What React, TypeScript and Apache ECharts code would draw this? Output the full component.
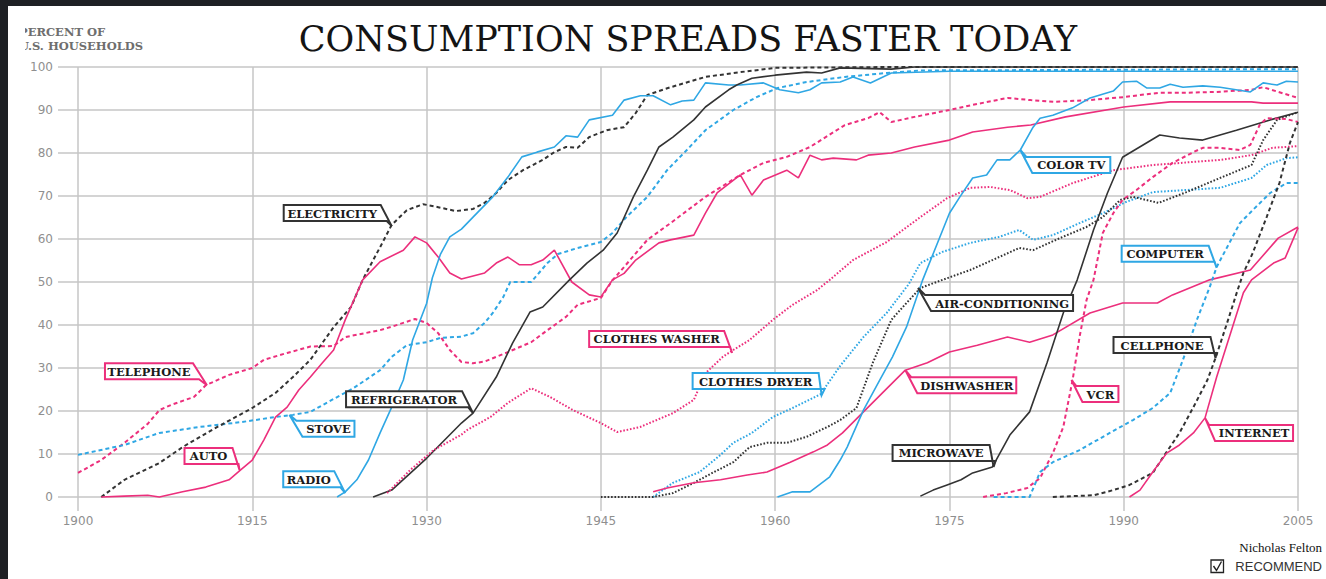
import React, { useEffect, useRef } from "react";
import * as echarts from "echarts";

// ---------- DATA ----------
const BASE_YEAR = 1900;
const X_TICK_YEARS = [1900, 1915, 1930, 1945, 1960, 1975, 1990, 2005];
const Y_TICK_VALUES = [0, 10, 20, 30, 40, 50, 60, 70, 80, 90, 100];

type Pt = [number, number];

const telephone: Pt[] = [[1900,5.6],[1902,8.6],[1904,12.6],[1906,17],[1907,20.2],[1908,21.4],[1910,23.3],[1911,26],[1913,28.4],[1915,30],[1916,31.9],[1918,33.5],[1920,35],[1922,35.1],[1923,37.2],[1926,38.8],[1927,39.6],[1929,41.4],[1930,40.5],[1931,38.1],[1932,34.2],[1933,31.4],[1934,31.1],[1935,31.5],[1937,33.7],[1939,36],[1940,38],[1942,41.9],[1943,44.7],[1945,46.3],[1946,50.4],[1947,53.5],[1949,59.8],[1951,63.7],[1954,69.8],[1957,74.9],[1959,77.7],[1961,79.1],[1963,81.4],[1966,86.5],[1968,88.1],[1969,89.5],[1970,87.2],[1972,88.4],[1975,90],[1977,91.2],[1980,92.8],[1982,92.3],[1984,91.9],[1987,92.3],[1990,93],[1993,94],[1995,94],[1998,94.2],[2001,94.7],[2002,95.3],[2005,92.8]];

const auto: Pt[] = [[1902,0],[1904,0.2],[1906,0.4],[1907,0],[1909,1.2],[1911,2.3],[1913,4],[1914,6.3],[1915,8.6],[1916,13.3],[1917,18.6],[1918,20.9],[1919,24.9],[1920,27.9],[1921,31.1],[1922,34.2],[1923,41.2],[1924.5,50.5],[1926,54.7],[1928,57.4],[1929,60.5],[1930,59.1],[1931,55.8],[1932,52.1],[1933,50.7],[1935,52.1],[1936,54.4],[1937,55.8],[1938,54],[1939,54],[1940,55.1],[1941,57.4],[1942.5,50],[1944,47],[1945,46.5],[1946,50.5],[1947,52],[1948,55.1],[1950,59.1],[1951,59.8],[1953,60.9],[1954,66],[1955,70.7],[1957,74.9],[1958,70.2],[1959,73.7],[1961,76],[1962,74.2],[1963,79.5],[1964,78.4],[1965,78.8],[1967,78.4],[1968,79.5],[1970,80],[1972,81.4],[1975,83],[1977,84.9],[1980,86],[1982,86.5],[1985,88.4],[1990,90.7],[1994,91.9],[2001,91.9],[2002,91.6],[2005,91.6]];

const electricity: Pt[] = [[1902,0],[1904,4],[1907,7.9],[1909,11.6],[1912,16.3],[1915,20.7],[1917,24.2],[1918.5,27.9],[1920,31.9],[1922,39.5],[1923.5,44.2],[1924.5,50.5],[1926,58.1],[1927,63.3],[1928.3,66.7],[1929.7,68.1],[1931,67.4],[1932.5,66.5],[1934,67],[1935,68.4],[1936,70.7],[1937,73.7],[1938.3,76],[1940,78.4],[1941,80.2],[1942,81.4],[1943,81.2],[1944,83.7],[1945.5,85.3],[1947,86],[1948,89.3],[1949,93.5],[1951,95.3],[1954,97.7],[1957,98.8],[1960,99.8],[1970,100],[2005,100]];

const radio: Pt[] = [[1922.3,0],[1923,1.2],[1924,4],[1925,8.6],[1926,14.9],[1927,20.9],[1928,27.2],[1928.8,36.5],[1930,45],[1930.5,51],[1931.2,56.5],[1932,60.5],[1933,62.3],[1934,65.1],[1935.7,69.8],[1937,74.4],[1938.2,79.1],[1939.5,80.2],[1941,81.4],[1942,84],[1943,83.7],[1944,87.7],[1946,88.8],[1947,92.3],[1948.4,93.3],[1949.5,93.3],[1951,91.2],[1952,92.1],[1953,92.3],[1954,96.3],[1956,95.8],[1957,95.8],[1959,96.3],[1960.4,94.7],[1962,94],[1963,94.7],[1964,96.3],[1965.6,96.5],[1966.7,97.7],[1968.2,96.3],[1970,98.6],[1975,99],[2005,99]];

const stove: Pt[] = [[1900,9.8],[1904,12.1],[1907,14.9],[1910.5,16.3],[1914,17.4],[1917,18.6],[1918.5,19.1],[1920,19.8],[1921.4,21.9],[1923.7,25.3],[1926,29.5],[1927,32.6],[1928.3,35.3],[1930,36],[1931.2,37],[1933,37.3],[1934,38.1],[1935,40.5],[1935.7,42.8],[1936.6,46.5],[1937.2,50],[1939,50],[1940.4,54.4],[1941.3,56.5],[1943,57.9],[1945,59.3],[1946,61.4],[1947.2,65.1],[1949,69.8],[1950.7,76],[1952.4,80.7],[1954,85.3],[1956.4,90],[1958.4,93],[1960.2,95.1],[1962.7,96.5],[1966,97.7],[1969.6,98.6],[1972.5,99.2],[2005,99.5]];

const refrigerator: Pt[] = [[1925.4,0],[1927,1.6],[1930,9],[1933,17.2],[1934,19.5],[1936,27.9],[1937.4,35.8],[1938.9,43],[1940,44.2],[1942.3,50.5],[1943.8,54.4],[1945.2,57.4],[1946.4,61.4],[1947.8,69.8],[1949,76],[1950,81.4],[1951.2,83.7],[1953,87.7],[1954,90.7],[1956,94.7],[1956.7,95.8],[1958,97.4],[1960,98.1],[1962.7,98.8],[1964,98.6],[1965.6,99.8],[1970,99.5],[1972,100],[2005,100]];

const clothesWasher: Pt[] = [[1926.6,0.9],[1928.6,6.3],[1930.6,10.9],[1933,14.5],[1933.5,15.6],[1935.5,18.6],[1937,21.9],[1939,25.3],[1940.6,23.3],[1942.6,20.2],[1945,17.2],[1946.4,15.1],[1948.4,16.3],[1951.2,19.5],[1953,22.6],[1954,28.8],[1955.5,32.6],[1956.4,34.2],[1957.8,36.5],[1959.8,41.2],[1961.5,44.7],[1963.6,48.1],[1964.7,50.5],[1966.7,55.1],[1969.6,59.3],[1972.5,65.1],[1974.8,69.5],[1976.8,71.9],[1978.5,72.1],[1980.2,71.4],[1981.7,69.5],[1982.8,69.8],[1985.6,73],[1989.1,76],[1992.5,77.2],[1998.3,78.4],[2001,79.5],[2002.8,81.2],[2005,81.6]];

const clothesDryer: Pt[] = [[1949.5,0],[1951.2,3.3],[1953.5,5.8],[1955.3,9.8],[1956.4,12.6],[1958,14.9],[1959.8,18.6],[1961.5,20.7],[1963.9,23.9],[1965.6,30.5],[1967.6,37.2],[1969.6,42.8],[1971.5,49.5],[1972.5,54.4],[1974.4,57],[1976.8,59.1],[1979.3,60.5],[1981,62.1],[1982.2,59.8],[1983.9,60.9],[1986.2,63.7],[1988.2,66],[1990.2,68.6],[1992.5,70.9],[1995.4,71.4],[1998.3,71.9],[2001,74.2],[2002.3,77.2],[2004,78.8],[2005,79]];

const airConditioning: Pt[] = [[1945,0],[1949.5,0],[1951.2,0.9],[1953,3.3],[1954.6,5.6],[1956.4,8.1],[1957.8,11.6],[1959.3,12.6],[1961,12.6],[1962.7,14],[1964.5,16.3],[1965.6,17.9],[1967,20.7],[1968.4,31.2],[1970,41.2],[1971.3,45.1],[1972.5,48.6],[1974.4,50.5],[1976.8,52.8],[1978.7,55.1],[1981,57.9],[1982.2,57.4],[1984.5,60.2],[1986.8,62.8],[1988.2,65.1],[1989.7,69.1],[1990.8,69.8],[1993,68.4],[1995.4,70.9],[1998.3,74.2],[2001,77.2],[2002,83],[2003.2,87.7],[2005,89.5]];

const dishwasher: Pt[] = [[1949.5,1.2],[1950.7,2.1],[1953,3.3],[1955.3,4],[1957.6,5.1],[1959.3,5.8],[1961.3,8.1],[1963.3,10.5],[1964.5,12.1],[1965.8,14.9],[1967.6,19.8],[1969.3,24.4],[1971.2,29.5],[1973.1,31.2],[1975,33.7],[1977.4,35.3],[1980,37.2],[1981.9,36],[1983.9,37.7],[1987.1,42.8],[1989.9,45.1],[1992.9,45.1],[1994.2,47],[1997.4,50.5],[2000.9,52.8],[2003.3,60.2],[2005,62.8]];

const colorTv: Pt[] = [[1960.2,0],[1961.5,1.2],[1963,1.2],[1964.7,4.7],[1965.6,8.6],[1966.2,11.6],[1967.6,20.2],[1969,27.2],[1970.1,32.6],[1971.3,39.5],[1972.7,50.5],[1975,66],[1975.9,69.8],[1977,74.2],[1978.2,74.9],[1979.1,78.4],[1980.2,78.4],[1981.1,80.7],[1982.2,86],[1982.8,88.1],[1983.9,88.8],[1985.6,90.5],[1987.1,92.8],[1989.1,94.4],[1989.9,96.5],[1991.1,96.7],[1992,95.1],[1993.1,95.1],[1994,96],[1995.1,95.3],[1996.8,95.6],[1998.3,95.3],[2000.9,94.2],[2002,96.3],[2003.2,95.8],[2004,96.7],[2005,96.5]];

const microwave: Pt[] = [[1972.5,0.2],[1973.6,1.6],[1974.8,2.8],[1976,4],[1977,5.6],[1978.7,7],[1980.2,14.4],[1981.9,19.8],[1983.4,31.2],[1984.8,42.8],[1986,50.5],[1987.4,62.1],[1988.6,70.7],[1989.9,79],[1993.1,84.2],[1994.8,83.5],[1996.8,83],[1999.7,85.3],[2002.6,87.7],[2005,89.5]];

const vcr: Pt[] = [[1977.9,0],[1979.9,0.9],[1981.7,2.1],[1982.8,4.4],[1983.9,10.2],[1984.8,16.3],[1985.6,27.2],[1986.2,37.2],[1986.8,45.8],[1987.4,50.5],[1988.2,61.4],[1989.1,66],[1989.9,69.1],[1991.1,71.4],[1992.5,74.4],[1994.2,77.7],[1996,80.2],[1996.8,81.2],[1998.3,81.2],[2000,80.7],[2000.9,81.9],[2001.7,86.5],[2002.3,88.1],[2004,87.9],[2005,87.2]];

const computer: Pt[] = [[1978.8,0],[1981.9,0],[1982.8,5.8],[1983.9,8.1],[1986.2,10.9],[1988.8,14.9],[1990.8,17.9],[1992.5,20.7],[1994,24.2],[1995.1,31.9],[1996.3,41.2],[1997.4,48.8],[1998,53.5],[1998.9,58.1],[2000,63.7],[2001.1,66.7],[2002.6,70.7],[2004,73],[2005,73]];

const cellphone: Pt[] = [[1983.9,0],[1987.4,0.4],[1989.1,1.6],[1990.5,2.8],[1992.5,5.6],[1993.4,9.3],[1994.8,14.9],[1996,20.9],[1997.2,27.2],[1997.9,32.3],[1998.9,40.5],[1999.8,48.1],[2000.3,52.1],[2001.1,56.7],[2002.3,65.1],[2003.4,73],[2004.3,82.3],[2005,87.2]];

const internet: Pt[] = [[1990.5,0],[1991.4,1.6],[1992.5,5.8],[1993.7,10.2],[1994.8,12.1],[1996,14.9],[1997,18.4],[1998,27.9],[2000.3,47.5],[2001,50.5],[2002.9,54.4],[2003.9,55.6],[2005,62.6]];

// Callout tips (data coordinates where each label points)
const CALLOUTS = [
  { label: "TELEPHONE", series: "Telephone", year: 1911.1, value: 26.0 },
  { label: "AUTO", series: "Auto", year: 1913.9, value: 6.3 },
  { label: "RADIO", series: "Radio", year: 1923.0, value: 0.9 },
  { label: "STOVE", series: "Stove", year: 1918.2, value: 19.1 },
  { label: "REFRIGERATOR", series: "Refrigerator", year: 1934.0, value: 19.5 },
  { label: "ELECTRICITY", series: "Electricity", year: 1927.0, value: 63.0 },
  { label: "CLOTHES WASHER", series: "Clothes washer", year: 1956.3, value: 33.5 },
  { label: "CLOTHES DRYER", series: "Clothes dryer", year: 1964.0, value: 23.7 },
  { label: "COLOR TV", series: "Color TV", year: 1981.1, value: 80.7 },
  { label: "AIR-CONDITIONING", series: "Air-conditioning", year: 1972.3, value: 48.6 },
  { label: "DISHWASHER", series: "Dishwasher", year: 1971.2, value: 29.5 },
  { label: "MICROWAVE", series: "Microwave", year: 1978.8, value: 7.0 },
  { label: "VCR", series: "VCR", year: 1985.5, value: 27.2 },
  { label: "COMPUTER", series: "Computer", year: 1998.0, value: 53.3 },
  { label: "CELLPHONE", series: "Cellphone", year: 1997.9, value: 32.3 },
  { label: "INTERNET", series: "Internet", year: 1997.0, value: 18.4 },
];

// ---------- STYLE ----------
const PINK = "#ec2f7c";
const BLUE = "#2fa7e4";
const BLACK = "#333333";
const GRID = "#c6c6c6";

const SERIES_DEFS = [
  { name: "Telephone", data: telephone, color: PINK, kind: "dashed" },
  { name: "Stove", data: stove, color: BLUE, kind: "dashed" },
  { name: "Electricity", data: electricity, color: BLACK, kind: "dashed" },
  { name: "Auto", data: auto, color: PINK, kind: "solid" },
  { name: "Radio", data: radio, color: BLUE, kind: "solid" },
  { name: "Refrigerator", data: refrigerator, color: BLACK, kind: "solid" },
  { name: "Clothes washer", data: clothesWasher, color: PINK, kind: "dotted" },
  { name: "Clothes dryer", data: clothesDryer, color: BLUE, kind: "dotted" },
  { name: "Air-conditioning", data: airConditioning, color: BLACK, kind: "dotted" },
  { name: "Dishwasher", data: dishwasher, color: PINK, kind: "solid" },
  { name: "Color TV", data: colorTv, color: BLUE, kind: "solid" },
  { name: "Microwave", data: microwave, color: BLACK, kind: "solid" },
  { name: "VCR", data: vcr, color: PINK, kind: "dashed" },
  { name: "Computer", data: computer, color: BLUE, kind: "dashed" },
  { name: "Cellphone", data: cellphone, color: BLACK, kind: "dashed" },
  { name: "Internet", data: internet, color: PINK, kind: "solid" },
];

// Callout box layout: offsets (px) from the tip, width, tail side
const CALLOUT_LAYOUT: Record<string, { dx: number; dy: number; w: number; side: "br" | "tl" }> = {
  TELEPHONE: { dx: -102, dy: -22, w: 88, side: "br" },
  AUTO: { dx: -55, dy: -22, w: 48, side: "br" },
  RADIO: { dx: -62, dy: -22, w: 51, side: "br" },
  STOVE: { dx: 13, dy: 6, w: 52, side: "tl" },
  REFRIGERATOR: { dx: -127, dy: -22, w: 116, side: "br" },
  ELECTRICITY: { dx: -108, dy: -21, w: 97, side: "br" },
  "CLOTHES WASHER": { dx: -143, dy: -22, w: 135, side: "br" },
  "CLOTHES DRYER": { dx: -129, dy: -22, w: 126, side: "br" },
  "COLOR TV": { dx: 12, dy: 7, w: 78, side: "tl" },
  "AIR-CONDITIONING": { dx: 13, dy: 7, w: 142, side: "tl" },
  DISHWASHER: { dx: 12, dy: 7, w: 99, side: "tl" },
  MICROWAVE: { dx: -101, dy: -22, w: 97, side: "br" },
  VCR: { dx: 11, dy: 6, w: 36, side: "tl" },
  COMPUTER: { dx: -95, dy: -22, w: 87, side: "br" },
  CELLPHONE: { dx: -102, dy: -21, w: 97, side: "br" },
  INTERNET: { dx: 10, dy: 7, w: 78, side: "tl" },
};
const BOX_H = 16;

const SANS = '"DejaVu Sans", sans-serif';
const SERIF_BOLD = 'bold 11.5px "DejaVu Serif"';

function lineStyleFor(kind: string, color: string) {
  if (kind === "dashed") return { color, width: 2, type: [4, 3] as number[] };
  if (kind === "dotted") return { color, width: 2, type: [1.6, 1.8] as number[] };
  return { color, width: 1.6, type: "solid" as const };
}

function textEl(x: number, y: number, text: string, font: string, fill: string, align: string, valign = "middle", z = 110) {
  return {
    type: "text",
    x,
    y,
    z,
    silent: true,
    style: {
      text,
      font,
      fill,
      textAlign: align,
      textVerticalAlign: valign,
      align,
      verticalAlign: valign,
    },
  };
}

export default function App() {
  const ref = useRef<HTMLDivElement>(null);

  useEffect(() => {
    if (!ref.current) return;
    const chart = echarts.init(ref.current, null, { renderer: "svg" });

    const series = SERIES_DEFS.map((s) => ({
      type: "line",
      name: s.name,
      data: s.data.map(([yr, v]) => [yr - BASE_YEAR, v]),
      showSymbol: false,
      symbol: "none",
      clip: false,
      silent: true,
      lineStyle: lineStyleFor(s.kind, s.color),
      emphasis: { disabled: true },
    }));

    chart.setOption({
      animation: false,
      backgroundColor: "#ffffff",
      grid: { left: 78, right: 28, top: 67, bottom: 82, containLabel: false },
      xAxis: {
        type: "value",
        min: X_TICK_YEARS[0] - BASE_YEAR,
        max: X_TICK_YEARS[X_TICK_YEARS.length - 1] - BASE_YEAR,
        interval: X_TICK_YEARS[1] - X_TICK_YEARS[0],
        axisLine: { show: false },
        axisTick: { show: true, length: 14, lineStyle: { color: GRID, width: 1.5 } },
        axisLabel: {
          formatter: (v: number) => String(v + BASE_YEAR),
          color: "#8f8f8f",
          fontSize: 12,
          fontFamily: SANS,
          margin: 18,
        },
        splitLine: { show: true, lineStyle: { color: GRID, width: 1.5 } },
      },
      yAxis: {
        type: "value",
        min: Y_TICK_VALUES[0],
        max: Y_TICK_VALUES[Y_TICK_VALUES.length - 1],
        interval: Y_TICK_VALUES[1] - Y_TICK_VALUES[0],
        axisLine: { show: false },
        axisTick: { show: true, length: 20, lineStyle: { color: GRID, width: 1.5 } },
        axisLabel: { color: "#8f8f8f", fontSize: 12, fontFamily: SANS, margin: 25 },
        splitLine: { show: true, lineStyle: { color: GRID, width: 1.5 } },
      },
      series,
    });

    const colorOf: Record<string, string> = {};
    SERIES_DEFS.forEach((s) => (colorOf[s.name] = s.color));

    const graphics: any[] = [];

    CALLOUTS.forEach((c) => {
      const p = chart.convertToPixel({ gridIndex: 0 }, [c.year - BASE_YEAR, c.value]) as number[];
      const tx = p[0];
      const ty = p[1];
      const L = CALLOUT_LAYOUT[c.label];
      const x0 = tx + L.dx;
      const y0 = ty + L.dy;
      const x1 = x0 + L.w;
      const y1 = y0 + BOX_H;
      const pts =
        L.side === "br"
          ? [[x0, y0], [x1, y0], [tx, ty], [x1 + 6, y1], [x0, y1]]
          : [[tx, ty], [x0 - 6, y0], [x1, y0], [x1, y1], [x0, y1]];
      const color = colorOf[c.series];
      graphics.push({
        type: "polygon",
        z: 100,
        silent: true,
        shape: { points: pts },
        style: { fill: "#ffffff", stroke: color, lineWidth: 2, lineJoin: "miter" },
      });
      graphics.push(textEl((x0 + x1) / 2, (y0 + y1) / 2 + 0.5, c.label, SERIF_BOLD, "#1a1a1a", "center", "middle", 101));
    });

    // Title and notes
    graphics.push(textEl(688, 39, "CONSUMPTION SPREADS FASTER TODAY", '35px "DejaVu Serif"', "#141414", "center"));
    graphics.push(textEl(19, 31.5, "PERCENT OF", 'bold 11.5px "DejaVu Serif"', "#6e6e6e", "left"));
    graphics.push(textEl(19, 45.5, "U.S. HOUSEHOLDS", 'bold 11.5px "DejaVu Serif"', "#6e6e6e", "left"));
    graphics.push({ type: "rect", z: 115, silent: true, shape: { x: 8, y: 22, width: 17, height: 32 }, style: { fill: "#ffffff" } });
    graphics.push(textEl(1322, 547, "Nicholas Felton", '13px "Liberation Serif"', "#111111", "right"));
    graphics.push(textEl(1322, 566.5, "RECOMMEND", '13px "Liberation Sans"', "#333333", "right"));
    graphics.push({ type: "rect", z: 110, silent: true, shape: { x: 1211, y: 560, width: 12.5, height: 12.5 }, style: { fill: "none", stroke: "#222222", lineWidth: 1.3 } });
    graphics.push({ type: "polyline", z: 111, silent: true, shape: { points: [[1213.5, 566], [1216.5, 570.5], [1221.5, 561.5]] }, style: { fill: "none", stroke: "#222222", lineWidth: 1.4 } });

    // Dark page frame (top and left)
    graphics.push({ type: "rect", z: 120, silent: true, shape: { x: 0, y: 0, width: 1326, height: 6 }, style: { fill: "#1e2024" } });
    graphics.push({ type: "rect", z: 120, silent: true, shape: { x: 0, y: 0, width: 8, height: 579 }, style: { fill: "#1e2024" } });

    chart.setOption({ graphic: graphics });

    return () => chart.dispose();
  }, []);

  return (
    <div
      ref={ref}
      style={{ position: "fixed", left: 0, top: 0, width: 1326, height: 579, background: "#ffffff" }}
    />
  );
}
